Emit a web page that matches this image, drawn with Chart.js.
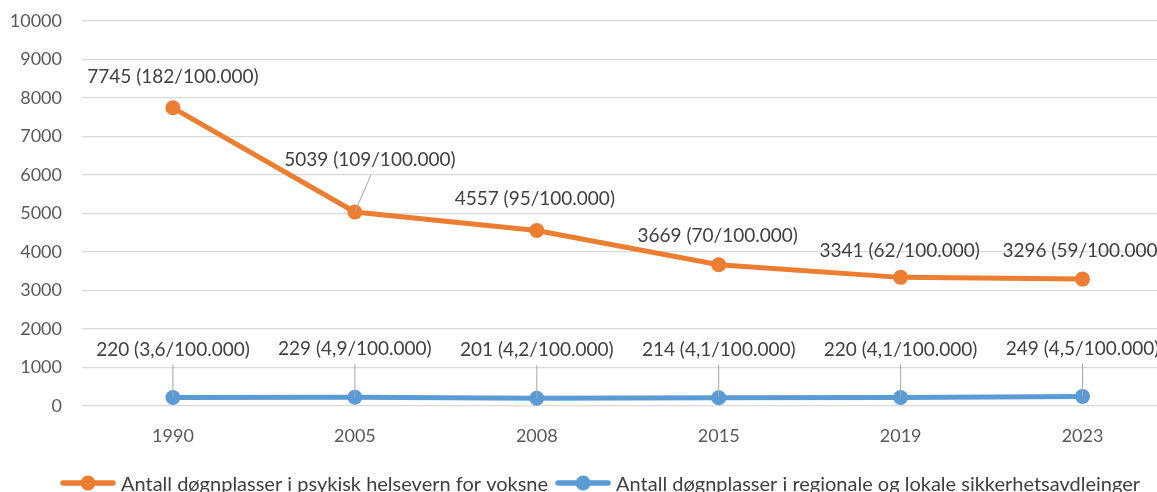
<!DOCTYPE html>
<html>
<head>
<meta charset="utf-8">
<script src="https://cdn.jsdelivr.net/npm/chart.js@4"></script>
<style>
  html, body { margin: 0; padding: 0; background: #fff; overflow: hidden; }
  #wrap { width: 1157px; height: 492px; overflow: hidden; position: relative; }
  #chart { position: absolute; left: 0; top: 0; }
</style>
</head>
<body>
<div id="wrap"><canvas id="chart" width="1181" height="505"></canvas></div>
<script>
'use strict';

// data
var years = ['1990', '2005', '2008', '2015', '2019', '2023'];
var voksne = [7745, 5039, 4557, 3669, 3341, 3296];
var voksneRate = ['182', '109', '95', '70', '62', '59'];
var sikkerhet = [220, 229, 201, 214, 220, 249];
var sikkerhetRate = ['3,6', '4,9', '4,2', '4,1', '4,1', '4,5'];
var seriesNames = ['Antall døgnplasser i psykisk helsevern for voksne',
                   'Antall døgnplasser i regionale og lokale sikkerhetsavdleinger'];
var yTicks = [0, 10000, 1000]; // min, max, step

var orange = '#ED7D31', blue = '#5B9BD5';
var font = 'Lato, "Open Sans", sans-serif';

// where each label sits relative to its point (px), and if it gets a leader line
var labelPos = [
  [[0, -31, 0], [15, -52, 1], [-2, -32, 0], [-1, -29, 0], [-1, -26, 0], [0, -28, 0]],
  [[0, -48, 1], [0, -48, 1], [0, -48, 1], [0, -48, 1], [0, -48, 1], [0, -48, 1]]
];
var rates = [voksneRate, sikkerhetRate];

// legend swatch: line with a dot, sitting a bit above the text centre
function legendIcon(color) {
  var c = document.createElement('canvas');
  c.width = 56; c.height = 26;
  var g = c.getContext('2d');
  g.strokeStyle = color; g.lineWidth = 5.5; g.lineCap = 'round';
  g.beginPath(); g.moveTo(3, 11); g.lineTo(53, 11); g.stroke();
  g.fillStyle = color;
  g.beginPath(); g.arc(28, 11, 7.5, 0, Math.PI * 2); g.fill();
  return c;
}
var icons = [legendIcon(orange), legendIcon(blue)];

var dataLabels = {
  id: 'dataLabels',
  afterDatasetsDraw: function (chart) {
    var ctx = chart.ctx;
    ctx.save();
    ctx.font = '19px ' + font;
    ctx.textAlign = 'center';
    ctx.textBaseline = 'middle';
    chart.data.datasets.forEach(function (ds, di) {
      var meta = chart.getDatasetMeta(di);
      meta.data.forEach(function (pt, i) {
        var p = labelPos[di][i];
        var lx = pt.x + p[0], ly = pt.y + p[1];
        if (p[2]) {
          ctx.strokeStyle = '#a6a6a6';
          ctx.lineWidth = 1;
          ctx.beginPath();
          ctx.moveTo(lx + (p[0] ? 1 : 0), ly + 15);
          ctx.lineTo(pt.x, pt.y);
          ctx.stroke();
        }
        ctx.fillStyle = '#404040';
        ctx.fillText(ds.data[i] + ' (' + rates[di][i] + '/100.000)', lx, ly);
      });
    });
    ctx.restore();
  }
};

var shiftLegend = {
  id: 'shiftLegend',
  afterLayout: function (chart) {
    chart.legend.left += 12;
    chart.legend.right += 12;
  }
};

new Chart(document.getElementById('chart'), {
  type: 'line',
  data: {
    labels: years,
    datasets: [{
      label: seriesNames[0],
      data: voksne,
      borderColor: orange,
      backgroundColor: orange,
      borderWidth: 5,
      pointRadius: 7.5,
      pointHoverRadius: 7.5,
      pointBorderWidth: 0,
      tension: 0
    }, {
      label: seriesNames[1],
      data: sikkerhet,
      borderColor: blue,
      backgroundColor: blue,
      borderWidth: 5,
      pointRadius: 7.5,
      pointHoverRadius: 7.5,
      pointBorderWidth: 0,
      tension: 0
    }]
  },
  options: {
    responsive: false,
    animation: false,
    layout: { padding: { top: 21, left: 0, right: 0, bottom: 0 } },
    scales: {
      x: {
        offset: true,
        grid: { display: false },
        border: { display: false },
        ticks: { color: '#595959', font: { family: font, size: 18 }, padding: 11 },
        afterFit: function (s) { s.height = 57; }
      },
      y: {
        min: yTicks[0],
        max: yTicks[1],
        grid: { color: '#d9d9d9', lineWidth: 1.3, drawTicks: false },
        border: { display: false },
        ticks: {
          stepSize: yTicks[2], color: '#595959', font: { family: font, size: 18 }, padding: 20,
          callback: function (v) { return String(v); }
        },
        afterFit: function (s) { s.width = 82; s.paddingTop = 0; s.paddingBottom = 0; }
      }
    },
    plugins: {
      tooltip: { enabled: false },
      legend: {
        position: 'bottom',
        labels: {
          color: '#404040',
          font: { family: font, size: 20 },
          usePointStyle: true,
          pointStyleWidth: 46,
          padding: 12,
          generateLabels: function (chart) {
            var items = Chart.defaults.plugins.legend.labels.generateLabels(chart);
            items.forEach(function (it, i) { it.pointStyle = icons[i]; });
            return items;
          }
        }
      }
    }
  },
  plugins: [dataLabels, shiftLegend]
});
</script>
</body>
</html>
